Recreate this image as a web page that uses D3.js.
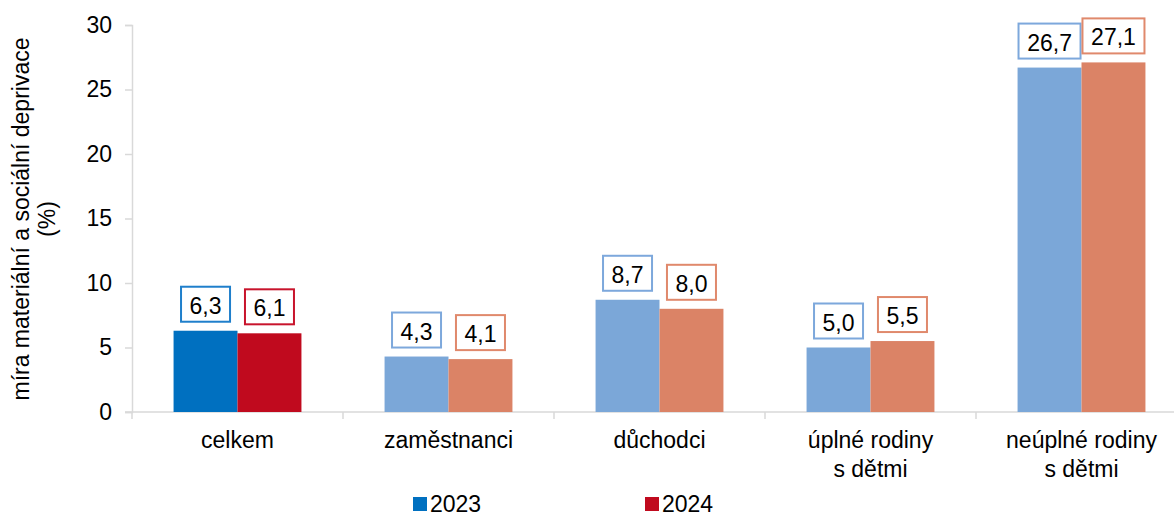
<!DOCTYPE html>
<html>
<head>
<meta charset="utf-8">
<script src="https://cdn.jsdelivr.net/npm/d3@7"></script>
<style>
  body { margin: 0; background: #fff; }
  svg { font-family: "Liberation Sans", Arial, sans-serif; }
</style>
</head>
<body>
<div id="chart"></div>
<script>
/*global d3*/

var categories = ["celkem", "zaměstnanci", "důchodci", "úplné rodiny\ns dětmi", "neúplné rodiny\ns dětmi"];
var series = ["2023", "2024"];
var values2023 = [6.3, 4.3, 8.7, 5.0, 26.7];
var values2024 = [6.1, 4.1, 8.0, 5.5, 27.1];
var yTicks = [0, 5, 10, 15, 20, 25, 30];

var width = 1174,
    height = 517,
    fontSize = 23,
    margin = {top: 25, left: 132, bottom: 105};

// the plot runs a little past the right edge, like in the original
var plotRight = 132 + 5 * 211;

var svg = d3.select("#chart").append("svg")
  .attr("width", width)
  .attr("height", height);

var x = d3.scaleBand()
  .domain(categories)
  .range([margin.left, plotRight])
  .paddingInner(0)
  .paddingOuter(0);

var xInner = d3.scaleBand()
  .domain(series)
  .range([0, x.bandwidth()])
  .paddingInner(0)
  .paddingOuter(0.65);

var y = d3.scaleLinear()
  .domain([0, 30])
  .range([height - margin.bottom, margin.top]);

// colours: first group uses the strong colours, the rest the pale ones
function fillColor(s, i) {
  if (i === 0) return s === "2023" ? "#0070C0" : "#C00A1E";
  return s === "2023" ? "#7BA7D8" : "#DB8366";
}
function borderColor(s, i) {
  if (i === 0) return s === "2023" ? "#1F7FCB" : "#C8142C";
  return s === "2023" ? "#7DA8DC" : "#E0896C";
}

// y axis
var yAxis = svg.append("g")
  .attr("transform", "translate(" + margin.left + ",0)")
  .call(d3.axisLeft(y).tickValues(yTicks).tickSize(7).tickPadding(13));
yAxis.select(".domain").attr("stroke", "#D9D9D9").attr("stroke-width", 1.5);
yAxis.selectAll(".tick line").attr("stroke", "#D9D9D9").attr("stroke-width", 1.5);
yAxis.selectAll(".tick text")
  .attr("font-size", fontSize)
  .attr("fill", "#000")
  .style("font-family", "'Liberation Sans', Arial, sans-serif");

// x axis baseline with category boundary ticks
var baseY = y(0);
svg.append("line")
  .attr("x1", margin.left - 7).attr("x2", width)
  .attr("y1", baseY).attr("y2", baseY)
  .attr("stroke", "#D9D9D9").attr("stroke-width", 1.5);

svg.selectAll(".xtick")
  .data(categories)
  .enter().append("line")
  .attr("class", "xtick")
  .attr("x1", function(d){ return x(d) + x.bandwidth(); })
  .attr("x2", function(d){ return x(d) + x.bandwidth(); })
  .attr("y1", baseY).attr("y2", baseY + 7)
  .attr("stroke", "#D9D9D9").attr("stroke-width", 1.5);
svg.append("line")
  .attr("x1", margin.left).attr("x2", margin.left)
  .attr("y1", baseY).attr("y2", baseY + 7)
  .attr("stroke", "#D9D9D9").attr("stroke-width", 1.5);

// data rows
var rows = [];
categories.forEach(function(c, i){
  rows.push({cat: c, i: i, s: "2023", v: values2023[i]});
  rows.push({cat: c, i: i, s: "2024", v: values2024[i]});
});

svg.selectAll("rect.bar")
  .data(rows)
  .enter().append("rect")
  .attr("class", "bar")
  .attr("x", function(d){ return x(d.cat) + xInner(d.s); })
  .attr("y", function(d){ return y(d.v); })
  .attr("width", xInner.bandwidth())
  .attr("height", function(d){ return y(0) - y(d.v); })
  .attr("fill", function(d){ return fillColor(d.s, d.i); });

// value labels in boxes
var fmt = function(v){ return d3.format(".1f")(v).replace(".", ","); };
var labels = svg.selectAll("g.lbl")
  .data(rows)
  .enter().append("g")
  .attr("class", "lbl")
  .attr("transform", function(d){
    var cx = x(d.cat) + xInner(d.s) + xInner.bandwidth() / 2;
    return "translate(" + cx + "," + (y(d.v) - 8) + ")";
  });

labels.each(function(d){
  var g = d3.select(this);
  var txt = fmt(d.v);
  var w = txt.length > 3 ? 62 : 49;
  g.append("rect")
    .attr("x", -w / 2).attr("y", -36)
    .attr("width", w).attr("height", 35)
    .attr("fill", "#fff")
    .attr("stroke", borderColor(d.s, d.i))
    .attr("stroke-width", 2);
  g.append("text")
    .attr("x", 0).attr("y", -9)
    .attr("text-anchor", "middle")
    .attr("font-size", fontSize)
    .attr("fill", "#000")
    .text(txt);
});

// category labels
svg.selectAll("text.cat")
  .data(categories)
  .enter().append("text")
  .attr("class", "cat")
  .attr("text-anchor", "middle")
  .attr("font-size", fontSize)
  .attr("fill", "#000")
  .attr("x", function(d){ return x(d) + x.bandwidth() / 2; })
  .attr("y", 448)
  .each(function(d){
    var t = d3.select(this);
    d.split("\n").forEach(function(line, k){
      t.append("tspan")
        .attr("x", t.attr("x"))
        .attr("dy", k === 0 ? 0 : 29)
        .text(line);
    });
  });

// y axis title
svg.append("text")
  .attr("transform", "translate(29,219) rotate(-90)")
  .attr("text-anchor", "middle")
  .attr("font-size", fontSize)
  .attr("fill", "#000")
  .text("míra materiální a sociální deprivace");
svg.append("text")
  .attr("transform", "translate(55,219) rotate(-90)")
  .attr("text-anchor", "middle")
  .attr("font-size", fontSize)
  .attr("fill", "#000")
  .text("(%)");

// legend (the original is clipped at the bottom, keep it just inside here)
var legendX = [413, 645];
var legend = svg.selectAll("g.leg")
  .data(series)
  .enter().append("g")
  .attr("class", "leg")
  .attr("transform", function(d, i){ return "translate(" + legendX[i] + ",497)"; });
legend.append("rect")
  .attr("width", 14).attr("height", 14)
  .attr("fill", function(d){ return fillColor(d, 0); });
legend.append("text")
  .attr("x", 17).attr("y", 14.5)
  .attr("font-size", fontSize)
  .attr("fill", "#000")
  .text(function(d){ return d; });
</script>
</body>
</html>
